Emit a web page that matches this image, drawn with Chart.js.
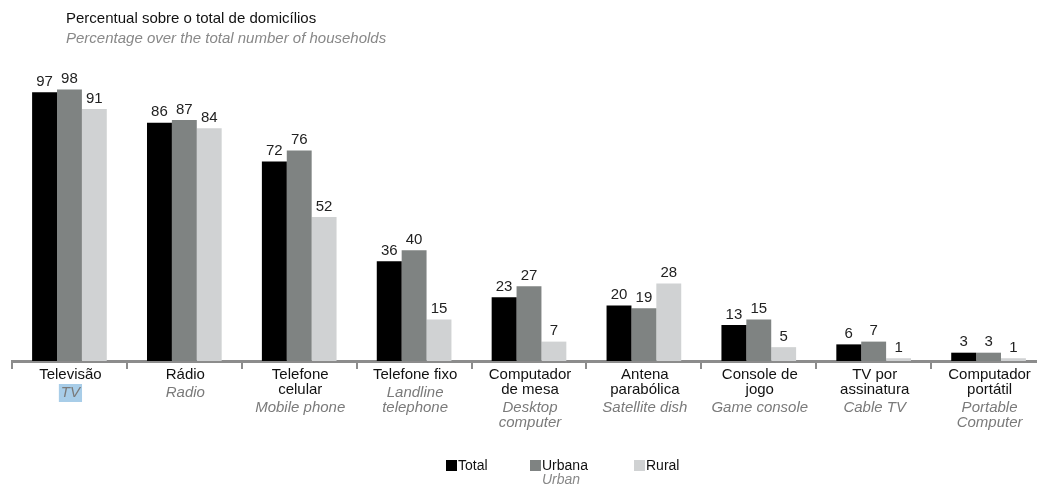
<!DOCTYPE html>
<html>
<head>
<meta charset="utf-8">
<script src="https://cdn.jsdelivr.net/npm/chart.js@4.4.0/dist/chart.umd.min.js"></script>
<style>
  html, body { margin: 0; padding: 0; background: #fff; overflow: hidden; }
  canvas { display: block; }
</style>
</head>
<body>
<canvas id="chart" width="1048" height="486"></canvas>
<script>
// categories: Portuguese lines / English lines
const labelsPt = [
  ["Televisão"], ["Rádio"], ["Telefone", "celular"], ["Telefone fixo"],
  ["Computador", "de mesa"], ["Antena", "parabólica"], ["Console de", "jogo"],
  ["TV por", "assinatura"], ["Computador", "portátil"]
];
const labelsEn = [
  ["TV"], ["Radio"], ["Mobile phone"], ["Landline", "telephone"],
  ["Desktop", "computer"], ["Satellite dish"], ["Game console"],
  ["Cable TV"], ["Portable", "Computer"]
];

const totalValues = [97, 86, 72, 36, 23, 20, 13, 6, 3];
const urbanValues = [98, 87, 76, 40, 27, 19, 15, 7, 3];
const ruralValues = [91, 84, 52, 15, 7, 28, 5, 1, 1];

const FONT = "'Liberation Sans', Arial, sans-serif";

// value labels above bars
const valueLabels = {
  id: "valueLabels",
  afterDatasetsDraw(chart) {
    const ctx = chart.ctx;
    ctx.save();
    ctx.font = "15px " + FONT;
    ctx.fillStyle = "#222";
    ctx.textAlign = "center";
    ctx.textBaseline = "bottom";
    chart.data.datasets.forEach((ds, i) => {
      chart.getDatasetMeta(i).data.forEach((bar, j) => {
        ctx.fillText(ds.data[j], bar.x, bar.y - 3);
      });
    });
    ctx.restore();
  }
};

// two-language category labels, titles and legend
const textLayer = {
  id: "textLayer",
  afterDraw(chart) {
    const ctx = chart.ctx;
    const x = chart.scales.x;
    ctx.save();
    ctx.textAlign = "center";
    ctx.textBaseline = "middle";
    labelsPt.forEach((lines, i) => {
      const cx = x.getPixelForValue(i) + 1;
      let y = 375;
      ctx.font = "15px " + FONT;
      ctx.fillStyle = "#111";
      lines.forEach((t, k) => {
        if (k > 0) y += 15;
        ctx.fillText(t, cx, y);
      });
      y += 18;
      ctx.font = "italic 15px " + FONT;
      labelsEn[i].forEach((t, k) => {
        if (k > 0) y += 15;
        if (i === 0) {
          const w = ctx.measureText(t).width;
          ctx.fillStyle = "#a8cde8";
          ctx.fillRect(cx - w / 2 - 2, y - 9, w + 4, 18);
        }
        ctx.fillStyle = "#7a7a7a";
        ctx.fillText(t, cx, y);
      });
    });

    // titles
    ctx.textAlign = "left";
    ctx.font = "15px " + FONT;
    ctx.fillStyle = "#111";
    ctx.fillText("Percentual sobre o total de domicílios", 66, 19);
    ctx.font = "italic 15px " + FONT;
    ctx.fillStyle = "#888";
    ctx.fillText("Percentage over the total number of households", 66, 39);

    // legend
    const items = [
      { x: 446, label: "Total", en: null, color: "#000000" },
      { x: 530, label: "Urbana", en: "Urban", color: "#7f8382" },
      { x: 634, label: "Rural", en: null, color: "#d0d2d3" }
    ];
    items.forEach(it => {
      ctx.fillStyle = it.color;
      ctx.fillRect(it.x, 460, 11, 11);
      ctx.font = "14px " + FONT;
      ctx.fillStyle = "#111";
      ctx.fillText(it.label, it.x + 12, 466);
      if (it.en) {
        ctx.font = "italic 14px " + FONT;
        ctx.fillStyle = "#888";
        ctx.fillText(it.en, it.x + 12, 480);
      }
    });
    ctx.restore();
  }
};

new Chart(document.getElementById("chart"), {
  type: "bar",
  data: {
    labels: labelsPt.map(l => l.join(" ")),
    datasets: [
      { label: "Total", data: totalValues, backgroundColor: "#000000" },
      { label: "Urbana", data: urbanValues, backgroundColor: "#7f8382" },
      { label: "Rural", data: ruralValues, backgroundColor: "#d0d2d3" }
    ]
  },
  options: {
    responsive: false,
    animation: false,
    layout: { padding: { left: 12, right: 2, top: 84, bottom: 117 } },
    datasets: { bar: { categoryPercentage: 0.65, barPercentage: 1.0 } },
    plugins: { legend: { display: false }, tooltip: { enabled: false } },
    scales: {
      x: {
        offset: true,
        grid: { offset: true, drawOnChartArea: false, color: "#8c8c8c", lineWidth: 2, tickLength: 8 },
        border: { color: "#8c8c8c", width: 3 },
        ticks: { display: false }
      },
      y: { display: false, min: 0, max: 100 }
    }
  },
  plugins: [valueLabels, textLayer]
});
</script>
</body>
</html>
